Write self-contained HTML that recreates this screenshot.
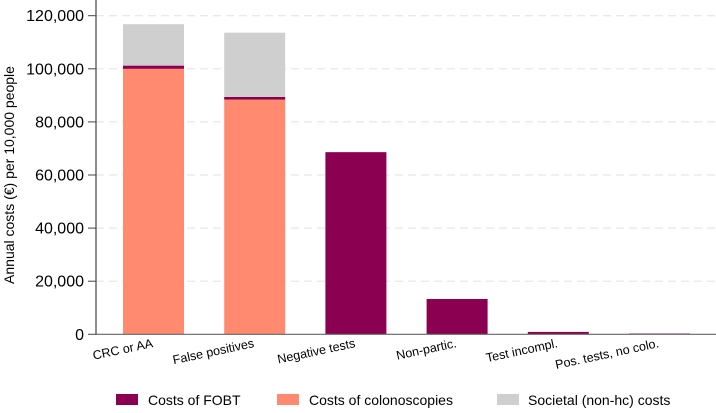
<!DOCTYPE html>
<html><head><meta charset="utf-8"><style>
body{margin:0;background:#fff;}
svg text{font-family:"Liberation Sans",Arial,sans-serif;fill:#000;}
</style></head><body>
<svg width="716" height="408" viewBox="0 0 716 408" xmlns="http://www.w3.org/2000/svg">
<g id="grid"></g><g id="bars"></g><g id="axes"></g>
<text transform="translate(14,175) rotate(-90)" text-anchor="middle" font-size="14">Annual costs (€) per 10,000 people</text>
<g>
<g><rect x="116" y="394" width="22" height="11" fill="#8b0051"/><text x="148" y="405" font-size="14">Costs of FOBT</text></g>
<g><rect x="277" y="394" width="22" height="11" fill="#ff8a70"/><text x="309" y="405" font-size="14">Costs of colonoscopies</text></g>
<g><rect x="497" y="394" width="22" height="11" fill="#cfcfcf"/><text x="528" y="405" font-size="14">Societal (non-hc) costs</text></g>
</g>
</svg>
<script>
const categories=["CRC or AA","False positives","Negative tests","Non-partic.","Test incompl.","Pos. tests, no colo."];
const colonoscopy=[100000,88400,0,0,0,0];
const fobt=[1200,1000,68600,13300,900,300];
const societal=[15600,24200,0,0,0,0];
const yTicks=[0,20000,40000,60000,80000,100000,120000];
const NS="http://www.w3.org/2000/svg";
const y=v=>334.3-v*(318.6/120000);
const x=i=>153.5+i*101.2;
const bw=61;
const AX=96;
function mk(t,a,p){const e=document.createElementNS(NS,t);for(const k in a)e.setAttribute(k,a[k]);p.appendChild(e);return e;}
const grid=document.getElementById('grid'),bars=document.getElementById('bars'),axes=document.getElementById('axes');
yTicks.forEach(v=>{
 if(v>0){const l=mk('line',{x1:AX,x2:716,y1:y(v),y2:y(v),stroke:'#e6e6e6','stroke-dasharray':'8,5','stroke-width':1.2},grid);
 
 }
 const tk=mk('line',{x1:88,x2:AX,y1:y(v),y2:y(v),stroke:'#444'},axes);
 
 
 const t=mk('text',{x:84,y:y(v)+5.5,'text-anchor':'end','font-size':16},axes);
 t.textContent=v.toLocaleString('en-US');
 
 
});
categories.forEach((c,i)=>{
 const cx=x(i);let base=0;
 [[colonoscopy[i],'#ff8a70','colonoscopy'],[fobt[i],'#8b0051','fobt'],[societal[i],'#cfcfcf','societal']].forEach(([v,col,n])=>{
  if(v<=0)return;
  const r=mk('rect',{x:cx-bw/2,y:y(base+v),width:bw,height:y(base)-y(base+v),fill:col},bars);
  
  
  base+=v;
 });
 const t=mk('text',{x:cx,y:347,'text-anchor':'end','font-size':12.5,transform:`rotate(-12 ${cx} 347)`},axes);
 t.textContent=c;
 
 
});
const ax=mk('line',{x1:AX,x2:716,y1:y(0),y2:y(0),stroke:'#666','stroke-width':1.2},axes);


const ay=mk('line',{x1:AX,x2:AX,y1:0,y2:y(0),stroke:'#444','stroke-width':1.2},axes);


</script>
</body></html>
